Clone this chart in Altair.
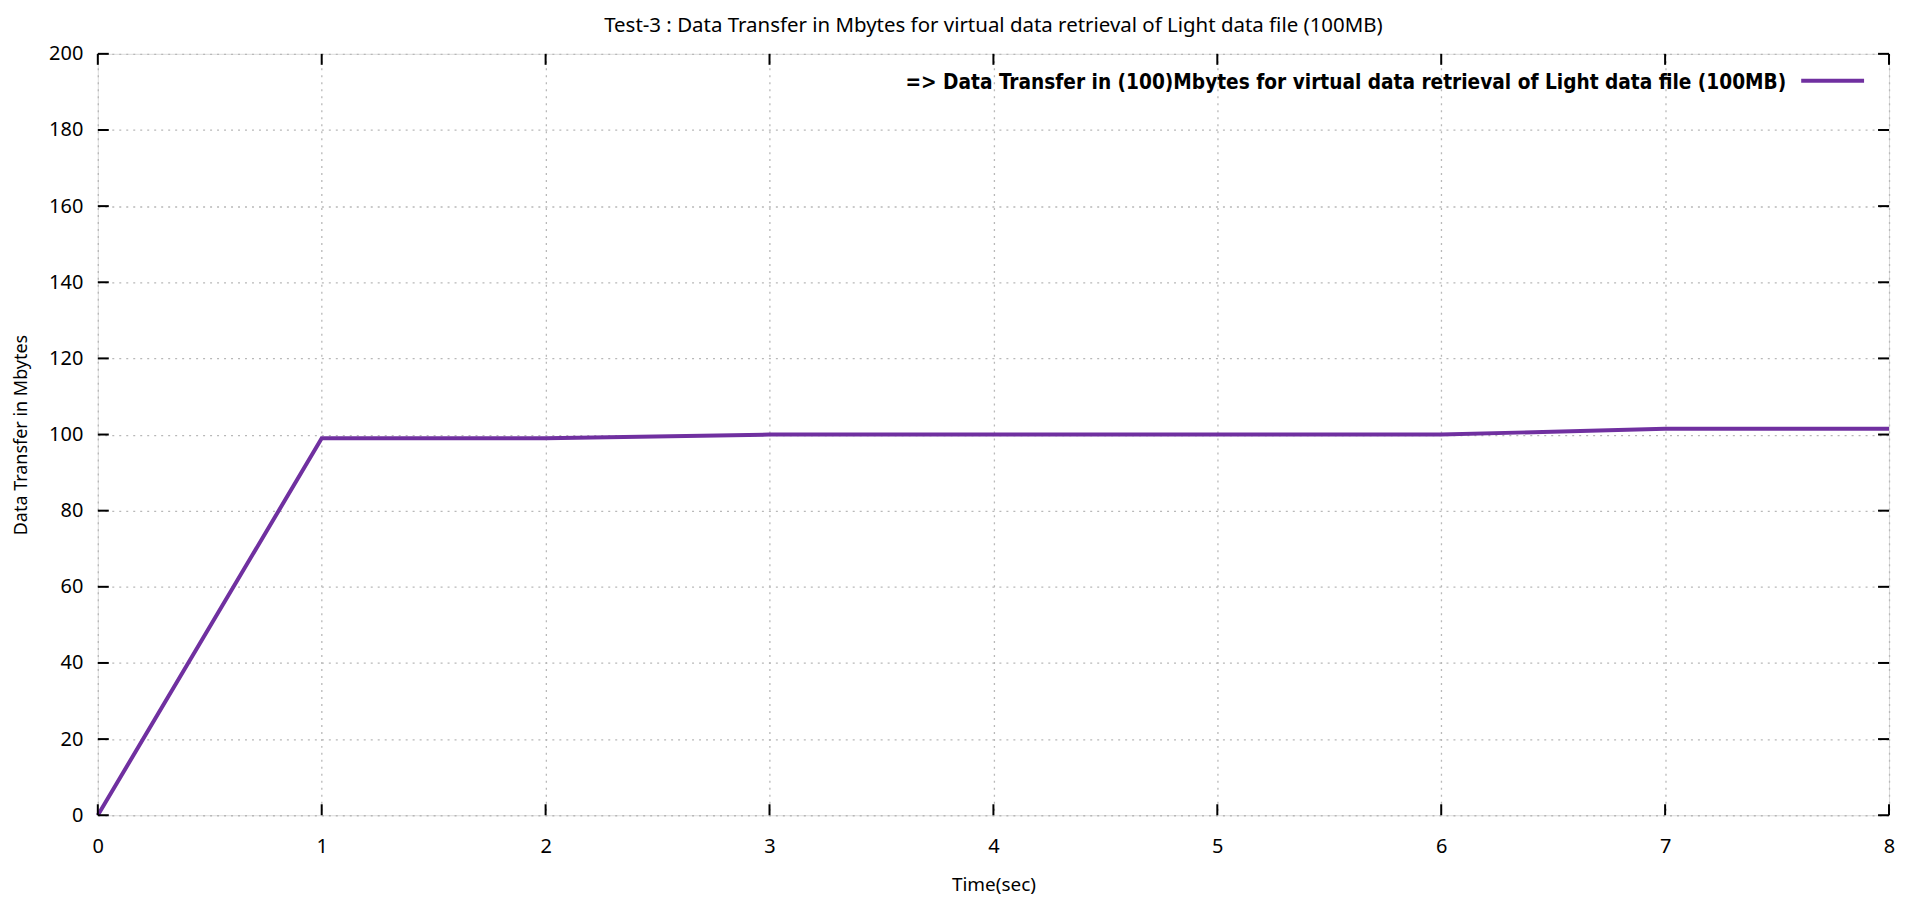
import altair as alt
import pandas as pd

# ---- data ----
time_sec = [0, 1, 2, 3, 4, 5, 6, 7, 8]
transfer_mb = [0, 99, 99, 100, 100, 100, 100, 101.5, 101.5]
x_ticks = [0, 1, 2, 3, 4, 5, 6, 7, 8]
y_ticks = [0, 20, 40, 60, 80, 100, 120, 140, 160, 180, 200]
series_label = "=>  Data Transfer in (100)Mbytes for virtual data retrieval of Light data file (100MB)"
chart_title = "Test-3 : Data Transfer in Mbytes for virtual data retrieval of Light data file (100MB)"

W, H = 1795, 763
LINE_COLOR = "#7030a0"
FONT = "Noto Sans"

df = pd.DataFrame({"t": time_sec, "v": transfer_mb})
xt = pd.DataFrame({"t": x_ticks})
yt = pd.DataFrame({"v": y_ticks})
leg = pd.DataFrame({"label": [series_label]})

xscale = alt.Scale(domain=[0, 8], nice=False, zero=False)
yscale = alt.Scale(domain=[0, 200], nice=False)

x_axis = alt.Axis(
    values=x_ticks, format="d", title="Time(sec)", ticks=False, domain=False,
    grid=True, gridColor="#b8b8b8", gridDash=[2, 5], gridWidth=1.3,
    labelFont=FONT, labelFontSize=20, labelColor="black", labelFlush=False,
    labelBaseline="middle", labelPadding=31,
    titleFont=FONT, titleFontSize=19, titleFontWeight="normal", titleColor="black",
    titleY=69, titleBaseline="middle",
)
y_axis = alt.Axis(
    values=y_ticks, title="Data Transfer in Mbytes", ticks=False, domain=False,
    grid=True, gridColor="#b8b8b8", gridDash=[2, 5], gridWidth=1.3,
    labelFont=FONT, labelFontSize=20, labelColor="black", labelPadding=15,
    titleFont=FONT, titleFontSize=18, titleFontWeight="normal", titleColor="black",
    titleX=-76, titleY=H / 2, titleAngle=-90, titleAlign="center", titleBaseline="middle",
)

line = alt.Chart(df).mark_line(color=LINE_COLOR, strokeWidth=4, strokeJoin="miter").encode(
    x=alt.X("t:Q", scale=xscale, axis=x_axis),
    y=alt.Y("v:Q", scale=yscale, axis=y_axis),
)

tick_style = dict(color="black", strokeWidth=2)
left_ticks = alt.Chart(yt).mark_rule(**tick_style).encode(
    y=alt.Y("v:Q", scale=yscale), x=alt.value(0), x2=alt.value(11))
right_ticks = alt.Chart(yt).mark_rule(**tick_style).encode(
    y=alt.Y("v:Q", scale=yscale), x=alt.value(W - 11), x2=alt.value(W))
bottom_ticks = alt.Chart(xt).mark_rule(**tick_style).encode(
    x=alt.X("t:Q", scale=xscale), y=alt.value(H - 11), y2=alt.value(H))
top_ticks = alt.Chart(xt).mark_rule(**tick_style).encode(
    x=alt.X("t:Q", scale=xscale), y=alt.value(0), y2=alt.value(11))

legend_text = alt.Chart(leg).mark_text(
    align="right", baseline="middle", fontWeight="bold",
    font="Liberation Sans Narrow, DejaVu Sans Condensed, Noto Sans", fontSize=20.7, color="black",
).encode(text="label:N", x=alt.value(1692), y=alt.value(29))
legend_line = alt.Chart(leg).mark_rule(color=LINE_COLOR, strokeWidth=4).encode(
    x=alt.value(1707), x2=alt.value(1770), y=alt.value(27))

chart = alt.layer(
    line, left_ticks, right_ticks, bottom_ticks, top_ticks, legend_text, legend_line
).properties(
    width=W, height=H,
    title=alt.TitleParams(
        chart_title, font=FONT, fontSize=20.5, fontWeight="normal", color="black",
        anchor="middle", frame="group", baseline="middle", offset=-3,
    ),
    autosize=alt.AutoSizeParams(type="none"),
    padding={"left": 90, "top": 45, "right": 8, "bottom": 80},
).configure_view(
    stroke="black", strokeWidth=2
).configure(background="white")

chart.save("out.html", embed_options={"renderer": "svg", "actions": False})
